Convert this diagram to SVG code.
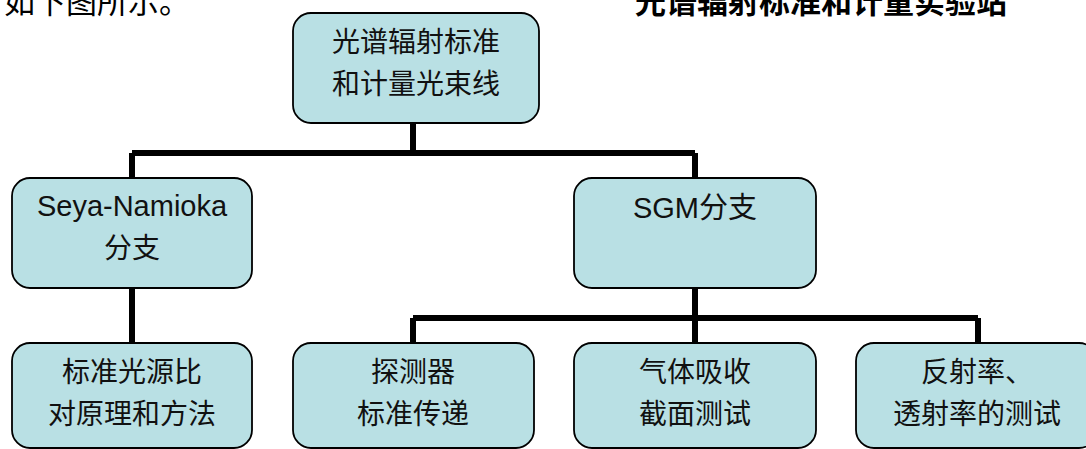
<svg xmlns="http://www.w3.org/2000/svg" width="1086" height="449" viewBox="0 0 1086 449">
<style>
.node{fill:#B9E0E4;stroke:#000;stroke-width:1.8}
.t{font-family:"Noto Sans CJK SC",sans-serif;font-size:28px;fill:#111;text-anchor:middle}
.lat{font-family:"Liberation Sans","Noto Sans CJK SC",sans-serif;font-size:29px}
.conn{stroke:#000;stroke-width:6;fill:none;stroke-linecap:butt}
.hd{font-family:"Noto Sans CJK SC",sans-serif;font-size:31px;fill:#000}
</style>
<rect width="1086" height="449" fill="#fff"/>
<text class="hd" x="4" y="13">如下图所示。</text>
<text class="hd" x="635" y="13" font-weight="bold">光谱辐射标准和计量实验站</text>
<g id="connectors">
<path class="conn" d="M413,123 V153 M132,153 H695 M132,153 V178 M695,153 V178"/>
<path class="conn" d="M132,288 V343"/>
<path class="conn" d="M695,288 V318 M413,318 H978 M413,318 V343 M695,318 V343 M978,318 V343"/>
</g>
<g id="root">
<rect class="node" x="293" y="13" width="246" height="110" rx="18"/>
<text class="t" x="416" y="52">光谱辐射标准</text>
<text class="t" x="416" y="94">和计量光束线</text>
</g>
<g id="seya">
<rect class="node" x="12" y="178" width="240" height="110" rx="18"/>
<text class="t lat" x="132" y="216">Seya-Namioka</text>
<text class="t" x="132" y="258">分支</text>
</g>
<g id="sgm">
<rect class="node" x="574" y="178" width="242" height="110" rx="18"/>
<text class="t lat" x="695" y="218">SGM分支</text>
</g>
<g id="n1">
<rect class="node" x="12" y="343" width="240" height="105" rx="18"/>
<text class="t" x="132" y="382">标准光源比</text>
<text class="t" x="132" y="424">对原理和方法</text>
</g>
<g id="n2">
<rect class="node" x="293" y="343" width="241" height="105" rx="18"/>
<text class="t" x="413" y="382">探测器</text>
<text class="t" x="413" y="424">标准传递</text>
</g>
<g id="n3">
<rect class="node" x="574" y="343" width="242" height="105" rx="18"/>
<text class="t" x="695" y="382">气体吸收</text>
<text class="t" x="695" y="424">截面测试</text>
</g>
<g id="n4">
<rect class="node" x="856" y="343" width="241" height="105" rx="18"/>
<text class="t" x="977" y="382">反射率、</text>
<text class="t" x="977" y="424">透射率的测试</text>
</g>
</svg>
